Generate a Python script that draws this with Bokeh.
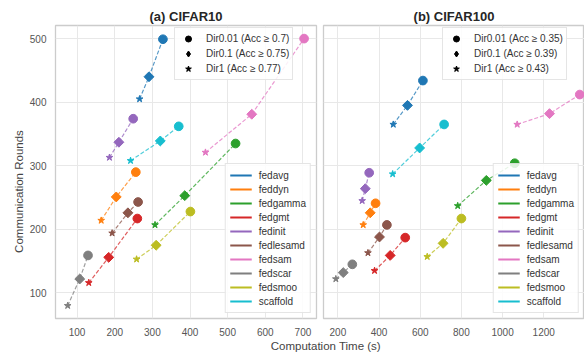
import math
import numpy as np
from bokeh.plotting import figure
from bokeh.layouts import row, column
from bokeh.models import Legend, LegendItem, Range1d, FixedTicker, Label
from bokeh.embed import file_html
from bokeh.resources import INLINE

# ---------------- data ----------------
methods = ["fedavg", "feddyn", "fedgamma", "fedgmt", "fedinit",
           "fedlesamd", "fedsam", "fedscar", "fedsmoo", "scaffold"]
colors = ["#1f77b4", "#ff7f0e", "#2ca02c", "#d62728", "#9467bd",
          "#8c564b", "#e377c2", "#7f7f7f", "#bcbd22", "#17becf"]

c10_marker_labels = ["Dir0.01 (Acc \u2265 0.7)", "Dir0.1 (Acc \u2265 0.75)", "Dir1 (Acc \u2265 0.77)"]
c100_marker_labels = ["Dir0.01 (Acc \u2265 0.35)", "Dir0.1 (Acc \u2265 0.39)", "Dir1 (Acc \u2265 0.43)"]

# CIFAR10: computation time (s) and communication rounds
c10_time_d001 = [328, 256, 521, 260, 249, 262, 703, 129, 401, 370]
c10_time_d01 = [291, 204, 386, 184, 211, 235, 564, 107, 310, 321]
c10_time_d1 = [266, 164, 307, 131, 186, 193, 441, 75, 258, 242]
c10_rounds_d001 = [499, 290, 335, 217, 374, 243, 500, 159, 228, 362]
c10_rounds_d01 = [440, 251, 253, 156, 337, 226, 381, 122, 175, 339]
c10_rounds_d1 = [405, 214, 207, 116, 313, 194, 321, 80, 153, 308]

# CIFAR100
c100_time_d001 = [613, 383, 1059, 527, 352, 438, 1375, 270, 800, 716]
c100_time_d01 = [538, 357, 921, 454, 333, 402, 1228, 226, 711, 597]
c100_time_d1 = [469, 323, 782, 378, 318, 346, 1071, 190, 634, 466]
c100_rounds_d001 = [434, 241, 304, 187, 289, 207, 412, 145, 217, 365]
c100_rounds_d01 = [395, 226, 277, 159, 264, 188, 382, 132, 178, 328]
c100_rounds_d1 = [365, 207, 237, 135, 245, 163, 365, 122, 157, 287]

c10_xticks = [100, 200, 300, 400, 500, 600, 700]
c100_xticks = [200, 400, 600, 800, 1000, 1200]
y_ticks = [100, 200, 300, 400, 500]

# ---------------- style ----------------
FONT = "Liberation Sans"
ROW_H = 338
y_range = Range1d(59.8, 520.6)


def style(p):
    p.outline_line_color = "#cccccc"
    p.outline_line_width = 1.3
    p.grid.grid_line_color = "#e8e8e8"
    p.grid.grid_line_width = 1
    p.axis.axis_line_color = None
    p.axis.major_tick_line_color = None
    p.axis.minor_tick_line_color = None
    p.axis.major_label_text_font = FONT
    p.axis.major_label_text_font_size = "10px"
    p.axis.major_label_text_color = "#555555"
    p.axis.major_label_standoff = 3
    p.title.text_font = FONT
    p.title.text_font_size = "13px"
    p.title.text_font_style = "bold"
    p.title.text_color = "#262626"
    p.title.align = "center"
    p.title.standoff = 4
    p.title.offset = 0


def panel(title, t001, t01, t1, r001, r01, r1, labels, xr, xticks,
          show_y, width, bl, br):
    p = figure(width=width, height=ROW_H, x_range=Range1d(*xr), y_range=y_range,
               output_backend="svg", toolbar_location=None,
               min_border_left=bl, min_border_right=br,
               min_border_top=25, min_border_bottom=15,
               y_axis_location="left" if show_y else None, title=title)
    style(p)
    p.xaxis.ticker = FixedTicker(ticks=xticks)
    p.ygrid.ticker = FixedTicker(ticks=y_ticks)
    if show_y:
        p.yaxis.ticker = FixedTicker(ticks=y_ticks)

    for i, c in enumerate(colors):
        p.line([t1[i], t01[i], t001[i]], [r1[i], r01[i], r001[i]],
               line_color=c, line_dash="4 2", line_width=1.2, line_alpha=0.75)
        p.scatter([t1[i]], [r1[i]], marker="star", size=7, color=c)
        p.scatter([t01[i]], [r01[i]], marker="square", angle=math.pi / 4, size=7, color=c)
        p.scatter([t001[i]], [r001[i]], marker="circle", size=8.7, color=c)

    # marker legend (legend-only renderers)
    m1 = p.scatter([np.nan], [np.nan], marker="circle", color="black")
    m2 = p.scatter([np.nan], [np.nan], marker="diamond", color="black")
    m3 = p.scatter([np.nan], [np.nan], marker="star", color="black")
    leg_m = Legend(items=[LegendItem(label=labels[0], renderers=[m1]),
                          LegendItem(label=labels[1], renderers=[m2]),
                          LegendItem(label=labels[2], renderers=[m3])],
                   location=(119, 238))
    # color legend
    items = []
    for name, c in zip(methods, colors):
        r = p.line([np.nan], [np.nan], line_color=c, line_width=2)
        items.append(LegendItem(label=name, renderers=[r]))
    leg_c = Legend(items=items, location="bottom_right")

    for lg in (leg_m, leg_c):
        lg.label_text_font = FONT
        lg.label_text_font_size = "10px"
        lg.label_text_color = "#333333"
        lg.border_line_color = "#cccccc"
        lg.border_line_width = 1
        lg.background_fill_color = "white"
        lg.background_fill_alpha = 0.85
        lg.spacing = 0
    leg_m.glyph_height = 15
    leg_m.label_height = 15
    leg_m.glyph_width = 20
    leg_m.label_standoff = 8
    leg_m.padding = 3
    leg_m.margin = 0
    leg_c.glyph_height = 14
    leg_c.label_height = 14
    leg_c.glyph_width = 22
    leg_c.label_standoff = 7
    leg_c.padding = 4
    leg_c.margin = 5
    p.add_layout(leg_m)
    p.add_layout(leg_c)
    return p


p1 = panel("(a) CIFAR10", c10_time_d001, c10_time_d01, c10_time_d1,
           c10_rounds_d001, c10_rounds_d01, c10_rounds_d1, c10_marker_labels,
           (42.6, 736), c10_xticks, True, 294, 21, 4)
p2 = panel("(b) CIFAR100", c100_time_d001, c100_time_d01, c100_time_d1,
           c100_rounds_d001, c100_rounds_d01, c100_rounds_d1, c100_marker_labels,
           (130, 1398), c100_xticks, False, 264, 3, 0)

# y-axis label strip
ylab = figure(width=26, height=ROW_H, x_range=Range1d(0, 1), y_range=Range1d(0, 1),
              output_backend="svg", toolbar_location=None, min_border=0,
              x_axis_location=None, y_axis_location=None)
ylab.outline_line_color = None
ylab.grid.visible = False
ylab.add_layout(Label(x=0.72, y=0.4334, text="Communication Rounds", angle=math.pi / 2,
                      text_align="center", text_baseline="middle", text_font=FONT,
                      text_font_size="11.5px", text_color="#444444"))

# x-axis label strip
xlab = figure(width=584, height=14, x_range=Range1d(0, 1), y_range=Range1d(0, 1),
              output_backend="svg", toolbar_location=None, min_border=0,
              x_axis_location=None, y_axis_location=None)
xlab.outline_line_color = None
xlab.grid.visible = False
xlab.add_layout(Label(x=0.557, y=0.5, text="Computation Time (s)",
                      text_align="center", text_baseline="middle", text_font=FONT,
                      text_font_size="11.5px", text_color="#444444"))

layout = column(row(ylab, p1, p2), xlab)
open("out.html", "w").write(file_html(layout, INLINE))
